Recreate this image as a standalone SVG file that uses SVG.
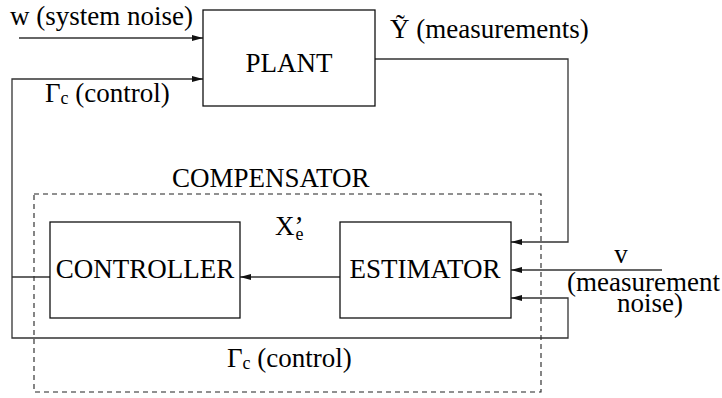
<svg xmlns="http://www.w3.org/2000/svg" width="722" height="398" viewBox="0 0 722 398">
<defs>
<marker id="ah" markerUnits="userSpaceOnUse" markerWidth="12" markerHeight="8" refX="11" refY="4" orient="auto">
<path d="M0,1 L11,4 L0,7 Z" fill="#111"/>
</marker>
<style>
text{font-family:"Liberation Serif","Times New Roman",serif;font-size:27px;fill:#000}
.sub{font-size:18px}
.box{fill:#fff;stroke:#111;stroke-width:1.3}
.ln{fill:none;stroke:#333;stroke-width:1.3}
.arr{fill:none;stroke:#333;stroke-width:1.3;marker-end:url(#ah)}
.dash{fill:none;stroke:#222;stroke-width:1.1;stroke-dasharray:5 4}
</style>
</defs>
<rect width="722" height="398" fill="#fff"/>
<g id="compensator">
<rect class="dash" x="34" y="194" width="507" height="198"/>
<text x="172" y="187">COMPENSATOR</text>
</g>
<g id="connectors">
<line class="arr" x1="19" y1="38" x2="203" y2="38"/>
<polyline class="arr" points="12,277 12,79 203,79"/>
<polyline class="arr" points="375,59 568,59 568,242 511,242"/>
<line class="arr" x1="662" y1="270" x2="511" y2="270"/>
<polyline class="arr" points="12,277 12,338 568,338 568,298 511,298"/>
<line class="ln" x1="12" y1="277" x2="50" y2="277"/>
<line class="arr" x1="340" y1="277" x2="240" y2="277"/>
</g>
<g id="plant">
<rect class="box" x="203" y="10" width="172" height="96"/>
<text x="289" y="72" text-anchor="middle">PLANT</text>
</g>
<g id="controller">
<rect class="box" x="50" y="222" width="190" height="96"/>
<text x="145" y="278" text-anchor="middle">CONTROLLER</text>
</g>
<g id="estimator">
<rect class="box" x="340" y="222" width="171" height="96"/>
<text x="425" y="278" text-anchor="middle">ESTIMATOR</text>
</g>
<g id="labels">
<text x="10" y="25">w (system noise)</text>
<text x="45" y="102">Γ<tspan class="sub" dy="2">c</tspan><tspan dy="-2"> (control)</tspan></text>
<text x="390" y="38">Ỹ (measurements)</text>
<text x="275" y="235">X’<tspan class="sub" dx="-8" dy="5">e</tspan></text>
<text x="621" y="263" text-anchor="middle">v</text>
<text x="567" y="291">(measurement<tspan x="617" y="312">noise)</tspan></text>
<text x="227" y="367">Γ<tspan class="sub" dy="2">c</tspan><tspan dy="-2"> (control)</tspan></text>
</g>
</svg>
